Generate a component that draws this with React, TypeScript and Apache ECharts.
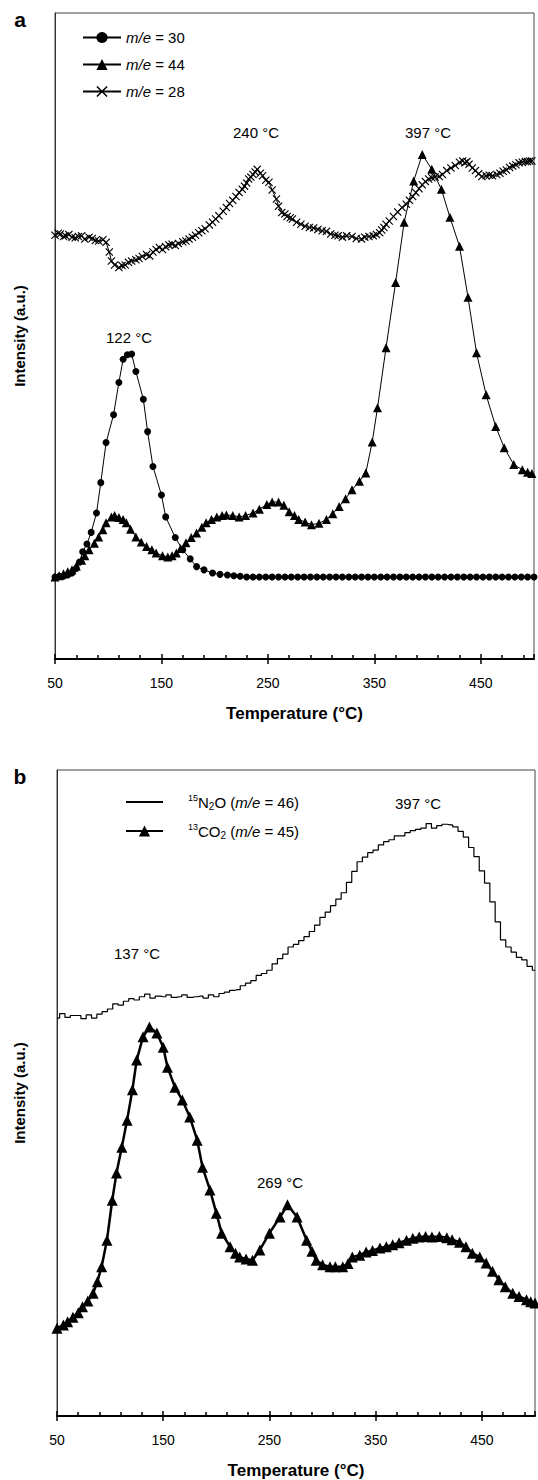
import React, { useEffect, useRef } from "react";
import * as echarts from "echarts";

// ---------- Panel a ----------
const tempA30 = [50,54,58,62,66,70,73,76,80,84,89,93,98,105,110,114,118,122,126,133,137,142,150,154,163,170,177,183,190,198,205,212,218,224,230,236,242,248,254,260,266,272,278,284,290,296,302,308,314,320,326,332,338,344,350,356,362,368,374,380,386,392,398,404,410,416,422,428,434,440,446,452,458,464,470,476,482,488,494,500];
const intA30 = [12.7,12.8,12.8,13.0,13.3,14.0,15.0,16.6,17.8,19.6,22.6,27.3,33.5,37.8,42.8,46.4,47.1,47.2,44.5,40.2,35.2,29.8,25.4,22.0,18.8,16.9,15.5,14.3,13.8,13.3,13.1,13.0,12.9,12.8,12.7,12.7,12.7,12.7,12.7,12.7,12.7,12.7,12.7,12.7,12.7,12.7,12.7,12.7,12.7,12.7,12.7,12.7,12.7,12.7,12.7,12.7,12.7,12.7,12.7,12.7,12.7,12.7,12.7,12.7,12.7,12.7,12.7,12.7,12.7,12.7,12.7,12.7,12.7,12.7,12.7,12.7,12.7,12.7,12.7,12.7];

const tempA44 = [50,54,58,62,66,70,75,78,82,87,91,95,98,103,106,110,114,117,121,126,131,136,141,145,151,156,160,164,168,173,178,183,188,192,197,202,207,211,217,223,229,236,242,249,254,260,265,270,275,279,285,291,298,305,311,317,323,329,336,342,348,353,361,370,378,387,395,404,413,421,430,438,446,455,464,472,481,489,494,498];
const intA44 = [12.7,12.9,13.2,13.5,13.8,14.4,15.3,16.0,16.9,17.9,18.9,20.0,21.1,22.0,22.2,21.9,21.6,21.1,20.1,18.9,18.1,17.4,16.9,16.4,16.0,15.8,16.0,16.4,17.1,18.0,18.8,19.5,20.4,21.1,21.6,22.0,22.2,22.3,22.2,22.0,22.2,22.6,23.2,23.9,24.3,24.3,23.8,22.8,22.2,21.6,21.2,20.8,21.0,21.6,22.5,23.6,24.8,26.2,27.5,28.8,33.6,38.9,48.2,58.3,67.6,74.0,78.1,75.8,72.7,68.4,63.9,56.0,47.4,40.9,36.0,32.7,30.1,29.3,28.9,28.7];

const tempA28 = [50,53,55,58,60,63,66,69,72,75,78,82,85,88,91,95,98,101,103,106,110,113,116,119,122,126,129,132,136,139,142,145,148,151,154,157,160,163,166,170,173,176,179,182,185,188,191,195,198,201,204,208,211,214,217,220,223,226,228,230,232,234,236,238,240,243,245,248,251,254,258,260,263,266,268,271,273,277,281,285,289,293,297,301,305,309,313,316,320,324,329,333,338,341,345,349,352,355,357,359,361,364,368,372,376,380,383,386,389,392,395,398,401,404,407,411,414,418,422,426,430,433,435,437,439,442,445,448,451,455,458,461,465,468,471,474,477,480,483,486,489,492,494,496,498];
const intA28 = [65.6,65.9,65.8,65.4,65.5,65.7,65.3,65.2,65.4,65.5,65.0,65.3,65.1,64.8,64.7,64.9,64.5,63.0,61.6,61.0,60.6,60.9,61.0,61.4,61.6,61.8,62.0,62.3,62.6,62.4,63.0,63.4,63.7,63.4,63.8,64.1,64.2,64.0,64.3,64.6,64.7,65.0,65.3,65.6,66.0,66.3,66.6,67.2,67.6,68.1,68.6,69.3,69.9,70.5,71.0,71.6,72.2,72.7,73.2,73.7,74.3,74.6,75.0,75.4,75.8,75.2,74.8,74.1,73.8,72.6,71.2,70.1,69.1,68.9,68.5,68.3,68.1,67.6,67.3,67.0,66.8,66.7,66.5,66.3,66.2,65.8,65.6,65.5,65.3,65.5,65.4,65.1,65.0,65.3,65.4,65.5,65.7,66.0,66.4,66.8,67.3,67.8,68.5,69.2,69.9,70.4,71.0,71.6,72.2,72.8,73.4,73.9,74.3,74.5,74.6,74.7,75.0,75.6,76.0,76.4,76.9,77.1,76.8,77.0,76.6,76.0,75.6,75.1,74.7,74.8,74.9,74.8,75.0,75.2,75.5,75.7,76.1,76.3,76.5,76.8,76.9,77.0,77.0,77.1,77.1];

// ---------- Panel b ----------
const tempB46 = [50,55,60,65,70,75,80,85,90,95,100,105,110,115,120,125,130,135,140,145,150,155,160,165,170,175,180,185,190,195,200,205,210,215,220,225,230,235,240,245,250,255,260,265,270,275,280,285,290,295,300,305,310,315,320,325,330,335,340,345,350,355,360,365,370,375,380,385,390,395,400,405,410,415,420,425,430,435,440,445,450,455,460,465,470,475,480,485,490,495,500];
const intB46 = [61.6,62.3,61.7,62.0,62.0,61.5,62.1,61.6,62.2,62.6,63.0,63.8,63.6,64.2,64.6,64.4,64.9,65.3,64.7,65.0,64.9,65.2,64.8,64.9,65.2,64.8,64.9,65.0,64.7,65.2,64.9,65.4,65.6,65.9,66.0,66.6,67.0,67.4,68.2,68.5,69.0,70.0,70.8,71.5,72.6,73.0,73.6,74.2,75.0,76.0,77.2,78.0,79.0,80.0,81.0,82.6,84.3,85.8,86.5,87.2,87.6,88.4,88.9,89.2,89.8,89.8,90.3,90.6,90.8,91.0,91.7,91.0,91.4,91.6,91.5,91.2,90.5,89.6,88.0,86.6,84.4,82.5,79.6,76.5,73.7,72.6,71.8,71.0,70.6,69.6,69.0];

const tempB45 = [50,56,60,65,70,74,79,84,88,92,97,102,106,111,116,121,125,131,137,144,150,154,161,168,175,182,187,194,200,205,213,218,222,228,234,241,250,260,267,276,285,290,294,300,307,312,319,324,328,335,341,347,354,360,366,372,379,385,391,397,403,410,417,422,429,435,441,448,454,460,466,472,479,485,492,496,500];
const intB45 = [13.6,14.1,14.6,15.3,16.0,16.9,17.8,19.0,20.8,23.1,27.2,33.4,37.6,41.6,45.8,50.5,55.1,58.7,60.2,59.3,57.1,54.0,50.9,48.9,46.3,42.7,38.5,35.0,31.4,28.3,26.2,25.2,24.6,24.3,24.1,25.7,28.3,30.8,32.7,30.8,27.2,25.5,24.1,23.4,23.1,23.1,23.1,23.6,24.6,24.9,25.4,25.6,26.0,26.2,26.5,26.8,27.2,27.5,27.7,27.8,27.7,27.8,27.6,27.3,26.9,26.2,25.2,24.6,23.7,22.4,21.1,20.0,19.0,18.5,18.0,17.7,17.5];

const xTicks = { min: 50, max: 500, interval: 100 };

const FONT = "'Liberation Sans', Arial, Helvetica, sans-serif";
const CROSS = "path://M0,1L1,0L5,4L9,0L10,1L6,5L10,9L9,10L5,6L1,10L0,9L4,5Z";
const LINE_ICON = "path://M0,0L100,0L100,5L0,5Z";

const zip = (xs: number[], ys: number[]) => {
  const n = Math.min(xs.length, ys.length);
  const out: number[][] = [];
  for (let i = 0; i < n; i++) out.push([xs[i], ys[i]]);
  return out;
};

export default function App() {
  const ref = useRef<HTMLDivElement>(null);

  useEffect(() => {
    const chart = echarts.init(ref.current!, null, { renderer: "svg" });

    const grids = [
      { left: 55, top: 13, width: 479, height: 646 },
      { left: 57, top: 770, width: 478, height: 646 },
    ];

    const mainX = (gridIndex: number) => ({
      type: "value",
      gridIndex,
      position: "bottom",
      ...xTicks,
      axisLine: { show: true, onZero: false, lineStyle: { color: "#000", width: 2 } },
      axisTick: { show: true, length: 5, lineStyle: { color: "#000", width: 1.5 } },
      axisLabel: {
        show: true,
        color: "#000",
        fontSize: 14,
        fontFamily: FONT,
        margin: 17,
        showMaxLabel: false,
      },
      splitLine: { show: false },
      name: "Temperature (°C)",
      nameLocation: "middle",
      nameGap: 46,
      nameTextStyle: { color: "#000", fontSize: 17, fontWeight: "bold", fontFamily: FONT },
    });
    const innerX = (gridIndex: number) => ({
      type: "value",
      gridIndex,
      position: "bottom",
      offset: 0,
      ...xTicks,
      axisLine: { show: false, onZero: false },
      axisTick: { show: true, inside: true, length: 5, lineStyle: { color: "#000", width: 1.5 } },
      minorTick: { show: true, splitNumber: 5, length: 4, lineStyle: { color: "#000", width: 1.5 } },
      axisLabel: { show: false },
      splitLine: { show: false },
    });
    const yAx = (gridIndex: number, gap: number) => ({
      type: "value",
      gridIndex,
      min: 0,
      max: 100,
      axisLine: { show: true, lineStyle: { color: "#333", width: 1 } },
      axisTick: { show: false },
      axisLabel: { show: false },
      splitLine: { show: false },
      name: "Intensity (a.u.)",
      nameLocation: "middle",
      nameGap: gap,
      nameTextStyle: { color: "#000", fontSize: 15, fontWeight: "bold", fontFamily: FONT },
    });

    const ann = (text: string, x: number, y: number, size = 15, bold = false) => ({
      type: "text",
      x,
      y,
      style: {
        text,
        fill: "#000",
        font: `${bold ? "bold " : ""}${size}px ${FONT}`,
        align: "center",
        verticalAlign: "middle",
      },
    });

    const option: any = {
      animation: false,
      backgroundColor: "#fff",
      grid: grids.map((g) => ({ ...g, show: true, borderColor: "#444", borderWidth: 1, backgroundColor: "transparent" })),
      xAxis: [mainX(0), innerX(0), mainX(1), innerX(1)],
      yAxis: [yAx(0, 28), yAx(1, 30)],
      legend: [
        {
          orient: "vertical",
          left: 77,
          top: 25,
          itemWidth: 38,
          itemHeight: 14,
          itemGap: 12,
          data: ["m/e = 30", "m/e = 44", "m/e = 28"],
          formatter: (name: string) => name.replace("m/e", "{i|m/e}"),
          textStyle: {
            color: "#000",
            fontSize: 15,
            fontFamily: FONT,
            rich: { i: { fontStyle: "italic", fontSize: 15, fontFamily: FONT, color: "#000" } },
          },
        },
        {
          orient: "vertical",
          left: 120,
          top: 788,
          itemWidth: 37,
          itemHeight: 14,
          itemGap: 11,
          data: [
            { name: "15N2O (m/e = 46)", icon: LINE_ICON, itemStyle: { color: "#000" } },
            { name: "13CO2 (m/e = 45)" },
          ],
          formatter: (name: string) =>
            name.startsWith("15")
              ? "{sp| }{sup|15}N{sub|2}O ({i|m/e} = 46)"
              : "{sp| }{sup|13}CO{sub|2} ({i|m/e} = 45)",
          textStyle: {
            color: "#000",
            fontSize: 15,
            fontFamily: FONT,
            lineHeight: 18,
            rich: {
              sp: { width: 20 },
              sup: { fontSize: 9, verticalAlign: "top", lineHeight: 18, fontFamily: FONT, color: "#000" },
              sub: { fontSize: 10, verticalAlign: "bottom", lineHeight: 16, fontFamily: FONT, color: "#000" },
              i: { fontStyle: "italic", fontSize: 15, fontFamily: FONT, color: "#000" },
            },
          },
        },
      ],
      series: [
        {
          name: "m/e = 30",
          type: "line",
          xAxisIndex: 0,
          yAxisIndex: 0,
          data: zip(tempA30, intA30),
          symbol: "circle",
          symbolSize: 7,
          itemStyle: { color: "#000" },
          lineStyle: { color: "#000", width: 1 },
        },
        {
          name: "m/e = 44",
          type: "line",
          xAxisIndex: 0,
          yAxisIndex: 0,
          data: zip(tempA44, intA44),
          symbol: "triangle",
          symbolSize: 9,
          itemStyle: { color: "#000" },
          lineStyle: { color: "#000", width: 1 },
        },
        {
          name: "m/e = 28",
          type: "line",
          xAxisIndex: 0,
          yAxisIndex: 0,
          data: zip(tempA28, intA28),
          symbol: CROSS,
          symbolSize: 8,
          itemStyle: { color: "#000" },
          lineStyle: { color: "#000", width: 1 },
        },
        {
          name: "15N2O (m/e = 46)",
          type: "line",
          xAxisIndex: 2,
          yAxisIndex: 1,
          data: zip(tempB46, intB46),
          step: "middle",
          showSymbol: false,
          symbol: "none",
          itemStyle: { color: "#000" },
          lineStyle: { color: "#000", width: 1.2 },
        },
        {
          name: "13CO2 (m/e = 45)",
          type: "line",
          xAxisIndex: 2,
          yAxisIndex: 1,
          data: zip(tempB45, intB45),
          symbol: "triangle",
          symbolSize: 11,
          itemStyle: { color: "#000" },
          lineStyle: { color: "#000", width: 2.5 },
        },
      ],
      graphic: [
        ann("a", 20, 19, 21, true),
        ann("b", 20, 776, 21, true),
        ann("122 °C", 129, 337),
        ann("240 °C", 256, 132),
        ann("397 °C", 428, 132),
        ann("397 °C", 418, 803),
        ann("137 °C", 137, 953),
        ann("269 °C", 280, 1182),
      ],
    };

    chart.setOption(option);
    return () => chart.dispose();
  }, []);

  return (
    <div
      ref={ref}
      style={{ position: "absolute", left: 0, top: 0, width: 538, height: 1480, background: "#fff" }}
    />
  );
}
